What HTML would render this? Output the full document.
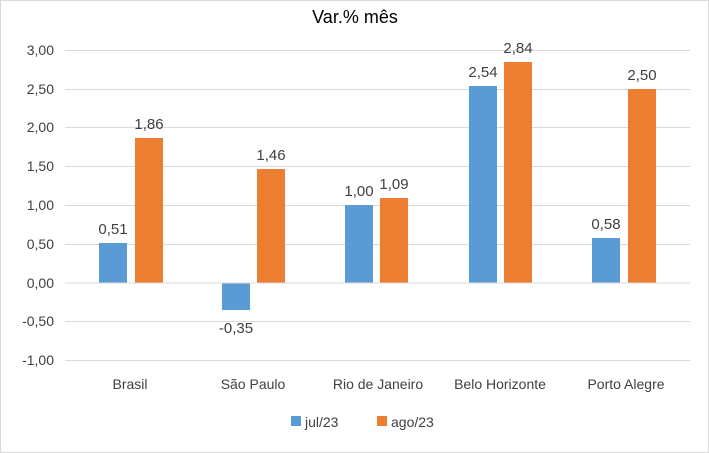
<!DOCTYPE html>
<html><head><meta charset="utf-8"><style>
body{margin:0;background:#fff}
svg{display:block;font-family:"Liberation Sans",sans-serif}
</style></head><body>
<svg width="709" height="453" xmlns="http://www.w3.org/2000/svg">
<rect x="0.5" y="0.5" width="708" height="452" fill="#fff" stroke="#d9d9d9"/>
<text x="355" y="23" font-size="18" text-anchor="middle" fill="#000">Var.% mês</text>
<g stroke="#d9d9d9" stroke-width="1">
<line x1="65" x2="690" y1="50.5" y2="50.5"/>
<line x1="65" x2="690" y1="89.5" y2="89.5"/>
<line x1="65" x2="690" y1="127.5" y2="127.5"/>
<line x1="65" x2="690" y1="166.5" y2="166.5"/>
<line x1="65" x2="690" y1="205.5" y2="205.5"/>
<line x1="65" x2="690" y1="244.5" y2="244.5"/>
<line x1="65" x2="690" y1="321.5" y2="321.5"/>
<line x1="65" x2="690" y1="360.5" y2="360.5"/>
</g>
<g font-size="14" text-anchor="end" fill="#404040">
<text x="54" y="55">3,00</text><text x="54" y="94">2,50</text><text x="54" y="132">2,00</text>
<text x="54" y="171">1,50</text><text x="54" y="210">1,00</text><text x="54" y="249">0,50</text>
<text x="54" y="288">0,00</text><text x="54" y="326">-0,50</text><text x="54" y="365">-1,00</text>
</g>
<g fill="#5b9bd5">
<rect x="99" y="243" width="28" height="40"/>
<rect x="222" y="283" width="28" height="27"/>
<rect x="345" y="205" width="28" height="78"/>
<rect x="469" y="86" width="28" height="197"/>
<rect x="592" y="238" width="28" height="45"/>
</g>
<g fill="#ed7d31">
<rect x="135" y="138" width="28" height="145"/>
<rect x="257" y="169" width="28" height="114"/>
<rect x="380" y="198" width="28" height="85"/>
<rect x="504" y="62" width="28" height="221"/>
<rect x="628" y="89" width="28" height="194"/>
</g>
<line x1="65" x2="690" y1="283" y2="283" stroke="#d9d9d9"/>
<g font-size="15" text-anchor="middle" fill="#404040">
<text x="113" y="234">0,51</text><text x="149" y="129">1,86</text>
<text x="236" y="333">-0,35</text><text x="271" y="160">1,46</text>
<text x="359" y="196">1,00</text><text x="394" y="189">1,09</text>
<text x="483" y="77">2,54</text><text x="518" y="53">2,84</text>
<text x="606" y="229">0,58</text><text x="642" y="80">2,50</text>
</g>
<g font-size="14" text-anchor="middle" fill="#404040">
<text x="130" y="389">Brasil</text><text x="253" y="389">São Paulo</text>
<text x="378" y="389">Rio de Janeiro</text><text x="500" y="389">Belo Horizonte</text>
<text x="626" y="389">Porto Alegre</text>
</g>
<rect x="291" y="416" width="10" height="10" fill="#5b9bd5"/>
<text x="305" y="427" font-size="14" fill="#404040">jul/23</text>
<rect x="377" y="416" width="10" height="10" fill="#ed7d31"/>
<text x="391" y="427" font-size="14" fill="#404040">ago/23</text>
</svg>
</body></html>
